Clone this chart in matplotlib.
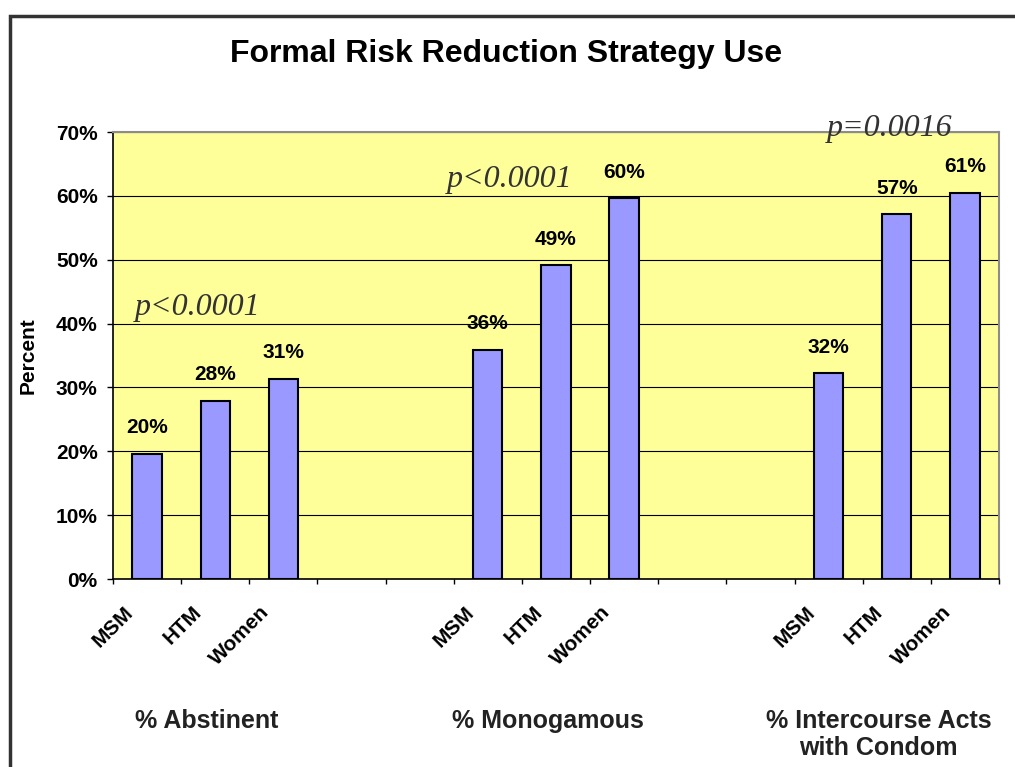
import numpy as np
import matplotlib
matplotlib.use('Agg')
import matplotlib.pyplot as plt
import matplotlib.transforms as mtransforms
from matplotlib.patches import Rectangle

plt.rcParams['font.family'] = ['Liberation Sans', 'DejaVu Sans']

# categories (blank slots separate the three groups)
categories = ['MSM', 'HTM', 'Women', '', '',
              'MSM', 'HTM', 'Women', '', '',
              'MSM', 'HTM', 'Women']
values = [19.6, 27.9, 31.3, None, None,
          35.9, 49.1, 59.6, None, None,
          32.2, 57.1, 60.5]
value_labels = ['20%', '28%', '31%', '', '',
                '36%', '49%', '60%', '', '',
                '32%', '57%', '61%']
group_names = ['% Abstinent', '% Monogamous', '% Intercourse Acts\nwith Condom']
group_centers = [1.38, 6.38, 11.23]
p_texts = ['p<0.0001', 'p<0.0001', 'p=0.0016']
p_pos = [(0.32, 42.5), (4.9, 62.6), (10.48, 70.6)]
yticks = [0, 10, 20, 30, 40, 50, 60, 70]

fig = plt.figure(figsize=(10.15, 7.67), dpi=100)
ax = fig.add_axes([0.1113, 0.2451, 0.8729, 0.5828])
ax.set_facecolor('#FFFF99')

x = np.arange(len(categories)) + 0.5
for xi, v, lab in zip(x, values, value_labels):
    if v is None:
        continue
    ax.bar(xi, v, width=0.43, color='#9999FF', edgecolor='black', linewidth=1.5, zorder=3)
    ax.annotate(lab, (xi, v), xytext=(0, 12), textcoords='offset points',
                ha='center', va='bottom', fontsize=15, fontweight='bold')

ax.set_xlim(0, len(categories))
ax.set_ylim(0, 70)
ax.set_yticks(yticks)
ax.set_yticklabels(['%d%%' % t for t in yticks], fontsize=15, fontweight='bold')
ax.yaxis.grid(True, color='black', linewidth=0.8, zorder=0)
ax.set_axisbelow(True)
ax.tick_params(axis='y', direction='out', length=4.5, width=1, pad=6.5)

ax.set_xticks(np.arange(len(categories) + 1))
ax.set_xticklabels([])
ax.tick_params(axis='x', which='major', direction='out', length=3.6, width=1)
ax.set_xticks(x, minor=True)
ax.set_xticklabels(categories, minor=True, rotation=45, ha='right',
                   fontsize=15, fontweight='bold')
ax.tick_params(axis='x', which='minor', length=0, pad=17)
offset = mtransforms.ScaledTranslation(-10 / 100, 0, fig.dpi_scale_trans)
for lbl in ax.get_xticklabels(minor=True):
    lbl.set_transform(lbl.get_transform() + offset)

for s in ['top', 'right']:
    ax.spines[s].set_color('#8c8c8c')
    ax.spines[s].set_linewidth(1.5)
for s in ['left', 'bottom']:
    ax.spines[s].set_color('black')
    ax.spines[s].set_linewidth(1.2)

ax.set_ylabel('Percent', fontsize=15, fontweight='bold')
ax.yaxis.set_label_coords(-0.085, 0.5)

for name, gc in zip(group_names, group_centers):
    ax.text(gc, -20.3, name, ha='center', va='top', fontsize=18,
            fontweight='bold', color='#222222', clip_on=False,
            linespacing=1.2)

for t, (px, py) in zip(p_texts, p_pos):
    ax.text(px, py, t, ha='left', va='center', fontsize=23, style='italic',
            family='Liberation Serif', color='#333333', clip_on=False, zorder=5)

fig.text(0.499, 0.929, 'Formal Risk Reduction Strategy Use', ha='center',
         va='center', fontsize=23, fontweight='bold')

fig.add_artist(Rectangle((10 / 1015, -0.1), 1.2, 1.1 - 16 / 767,
                         transform=fig.transFigure, fill=False,
                         edgecolor='#333333', linewidth=2.5, clip_on=False))

fig.savefig('out.png', dpi=100)
